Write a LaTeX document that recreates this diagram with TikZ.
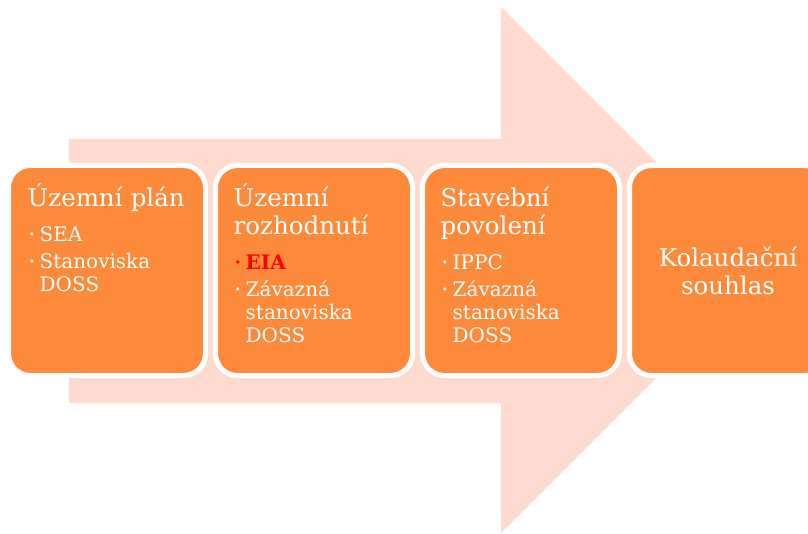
\documentclass[tikz,border=0pt]{standalone}
\usepackage{fontspec}
\setmainfont{DejaVu Serif}
\usetikzlibrary{positioning}

\definecolor{oranzova}{RGB}{253,138,58}
\definecolor{ruzova}{RGB}{255,218,207}
\setlength{\parskip}{0pt}

\newcommand{\bodka}{\makebox[12pt][l]{\hspace{1pt}\raisebox{3pt}{\fontsize{11}{11}\selectfont •}}}
\newcommand{\polozka}[1]{\par\hangindent=12pt\hangafter=1\noindent\bodka#1\par}

\begin{document}
\begin{tikzpicture}[x=1pt,y=-1pt,
  krok/.style={draw=white, line width=5pt, fill=oranzova, rounded corners=22pt,
    minimum width=197pt, minimum height=210pt, inner sep=0pt, outer sep=0pt},
  popis/.style={text=white, text width=180pt, align=left, inner sep=0pt,
    anchor=base west, font=\fontsize{24.5}{28}\selectfont}]
  \useasboundingbox (0,0) rectangle (808,534);
  \clip (0,0) rectangle (808,534);
  % the big arrow in the back
  \fill[ruzova] (69,139) -- (501,139) -- (501,7) -- (764,270)
    -- (501,533) -- (501,403) -- (69,403) -- cycle;
  % the four stages
  \node[krok] (plan) at (107,270.5) {};
  \node[krok, right=10pt of plan] (rozh) {};
  \node[krok, right=10pt of rozh] (stav) {};
  \node[krok, right=10pt of stav] (kol) {};
  % texts, baseline of the first line 41.5pt below the top edge
  \node[popis] (plan-t) at ([shift={(19,41.5)}]plan.north west) {%
    Územní plán\par
    \fontsize{20}{23}\selectfont\vspace{12pt}
    \polozka{SEA}\vspace{4pt}
    \polozka{Stanoviska\newline DOSS}};
  \node[popis] (rozh-t) at ([shift={(18,41.5)}]rozh.north west) {%
    Územní\newline rozhodnutí\par
    \fontsize{20}{23}\selectfont\vspace{12pt}
    {\color{red}\polozka{\textbf{EIA}}}\vspace{4pt}
    \polozka{Závazná\newline stanoviska\newline DOSS}};
  \node[popis] (stav-t) at ([shift={(18,41.5)}]stav.north west) {%
    Stavební\newline povolení\par
    \fontsize{20}{23}\selectfont\vspace{12pt}
    \polozka{IPPC}\vspace{4pt}
    \polozka{Závazná\newline stanoviska\newline DOSS}};
  \node[text=white, align=center, inner sep=0pt, font=\fontsize{24.5}{28}\selectfont]
    (kol-t) at (kol.center) {Kolaudační\\souhlas};
\end{tikzpicture}
\end{document}
